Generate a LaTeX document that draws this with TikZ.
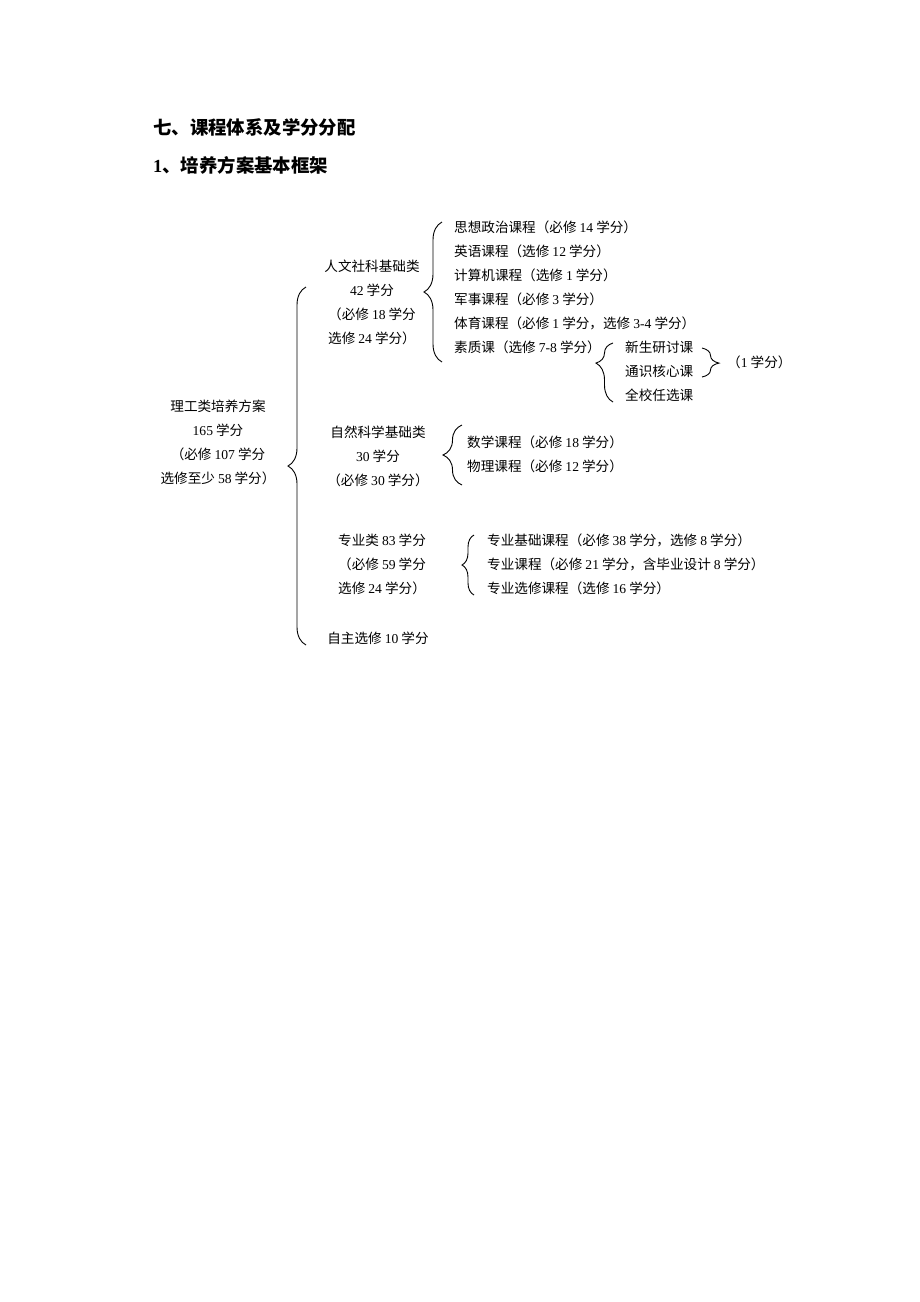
\documentclass[tikz,border=0pt]{standalone}
\usepackage{fontspec}
\setmainfont{Noto Sans CJK SC}
\newfontfamily\latinfont{Liberation Serif}
\newcommand\N[1]{{\latinfont #1}}
\usetikzlibrary{decorations.pathreplacing}
\begin{document}
\begin{tikzpicture}[x=1pt,y=-1pt,
  txt/.style={inner sep=0pt, font=\fontsize{13.6}{24}\selectfont, text=black},
  item/.style={txt, anchor=west},
  blk/.style={txt, align=center},
  ttl/.style={inner sep=0pt, anchor=west, font=\fontsize{18.4}{22}\selectfont\bfseries},
  brc/.style={decorate, line width=0.9pt, draw=black},
]
\useasboundingbox (0,0) rectangle (920,1302);

% titles
\node[ttl] (t1) at (153,127) {七、课程体系及学分分配};
\node[ttl] (t2) at (153,165) {\N{\bfseries 1}、培养方案基本框架};

% root
\node[blk] (root) at (218,442.5) {理工类培养方案\\\N{165} 学分\\（必修 \N{107} 学分\\选修至少 \N{58} 学分）};
\draw[brc, decoration={brace, amplitude=18pt}] (306,645) -- (306,287);

% 人文社科
\node[blk] (rw) at (372,302.5) {人文社科基础类\\\N{42} 学分\\（必修 \N{18} 学分\\选修 \N{24} 学分）};
\draw[brc, decoration={brace, amplitude=18pt}] (442,362) -- (442,222);
\node[item] (a1) at (454,227) {思想政治课程（必修 \N{14} 学分）};
\node[item] (a2) at (454,251) {英语课程（选修 \N{12} 学分）};
\node[item] (a3) at (454,275) {计算机课程（选修 \N{1} 学分）};
\node[item] (a4) at (454,299) {军事课程（必修 \N{3} 学分）};
\node[item] (a5) at (454,323) {体育课程（必修 \N{1} 学分，选修 \N{3-4} 学分）};
\node[item] (a6) at (454,347) {素质课（选修 \N{7-8} 学分）};

\draw[brc, decoration={brace, amplitude=17pt, aspect=0.66}] (613,402) -- (613,343);
\node[item] (s1) at (625,347) {新生研讨课};
\node[item] (s2) at (625,371) {通识核心课};
\node[item] (s3) at (625,395) {全校任选课};
\draw[brc, decoration={brace, amplitude=17pt, aspect=0.52}] (702,348) -- (702,377);
\node[item] (s4) at (727,362) {（\N{1} 学分）};

% 自然科学
\node[blk] (zr) at (378,456.5) {自然科学基础类\\\N{30} 学分\\（必修 \N{30} 学分）};
\draw[brc, decoration={brace, amplitude=19pt}] (462,485) -- (462,425);
\node[item] (b1) at (467,442) {数学课程（必修 \N{18} 学分）};
\node[item] (b2) at (467,466) {物理课程（必修 \N{12} 学分）};

% 专业类
\node[blk] (zy) at (382,564) {专业类 \N{83} 学分\\（必修 \N{59} 学分\\选修 \N{24} 学分）};
\draw[brc, decoration={brace, amplitude=12pt}] (474,595) -- (474,535);
\node[item] (c1) at (487,540) {专业基础课程（必修 \N{38} 学分，选修 \N{8} 学分）};
\node[item] (c2) at (487,564) {专业课程（必修 \N{21} 学分，含毕业设计 \N{8} 学分）};
\node[item] (c3) at (487,588) {专业选修课程（选修 \N{16} 学分）};

% 自主选修
\node[blk] (zz) at (378,638) {自主选修 \N{10} 学分};
\end{tikzpicture}
\end{document}
